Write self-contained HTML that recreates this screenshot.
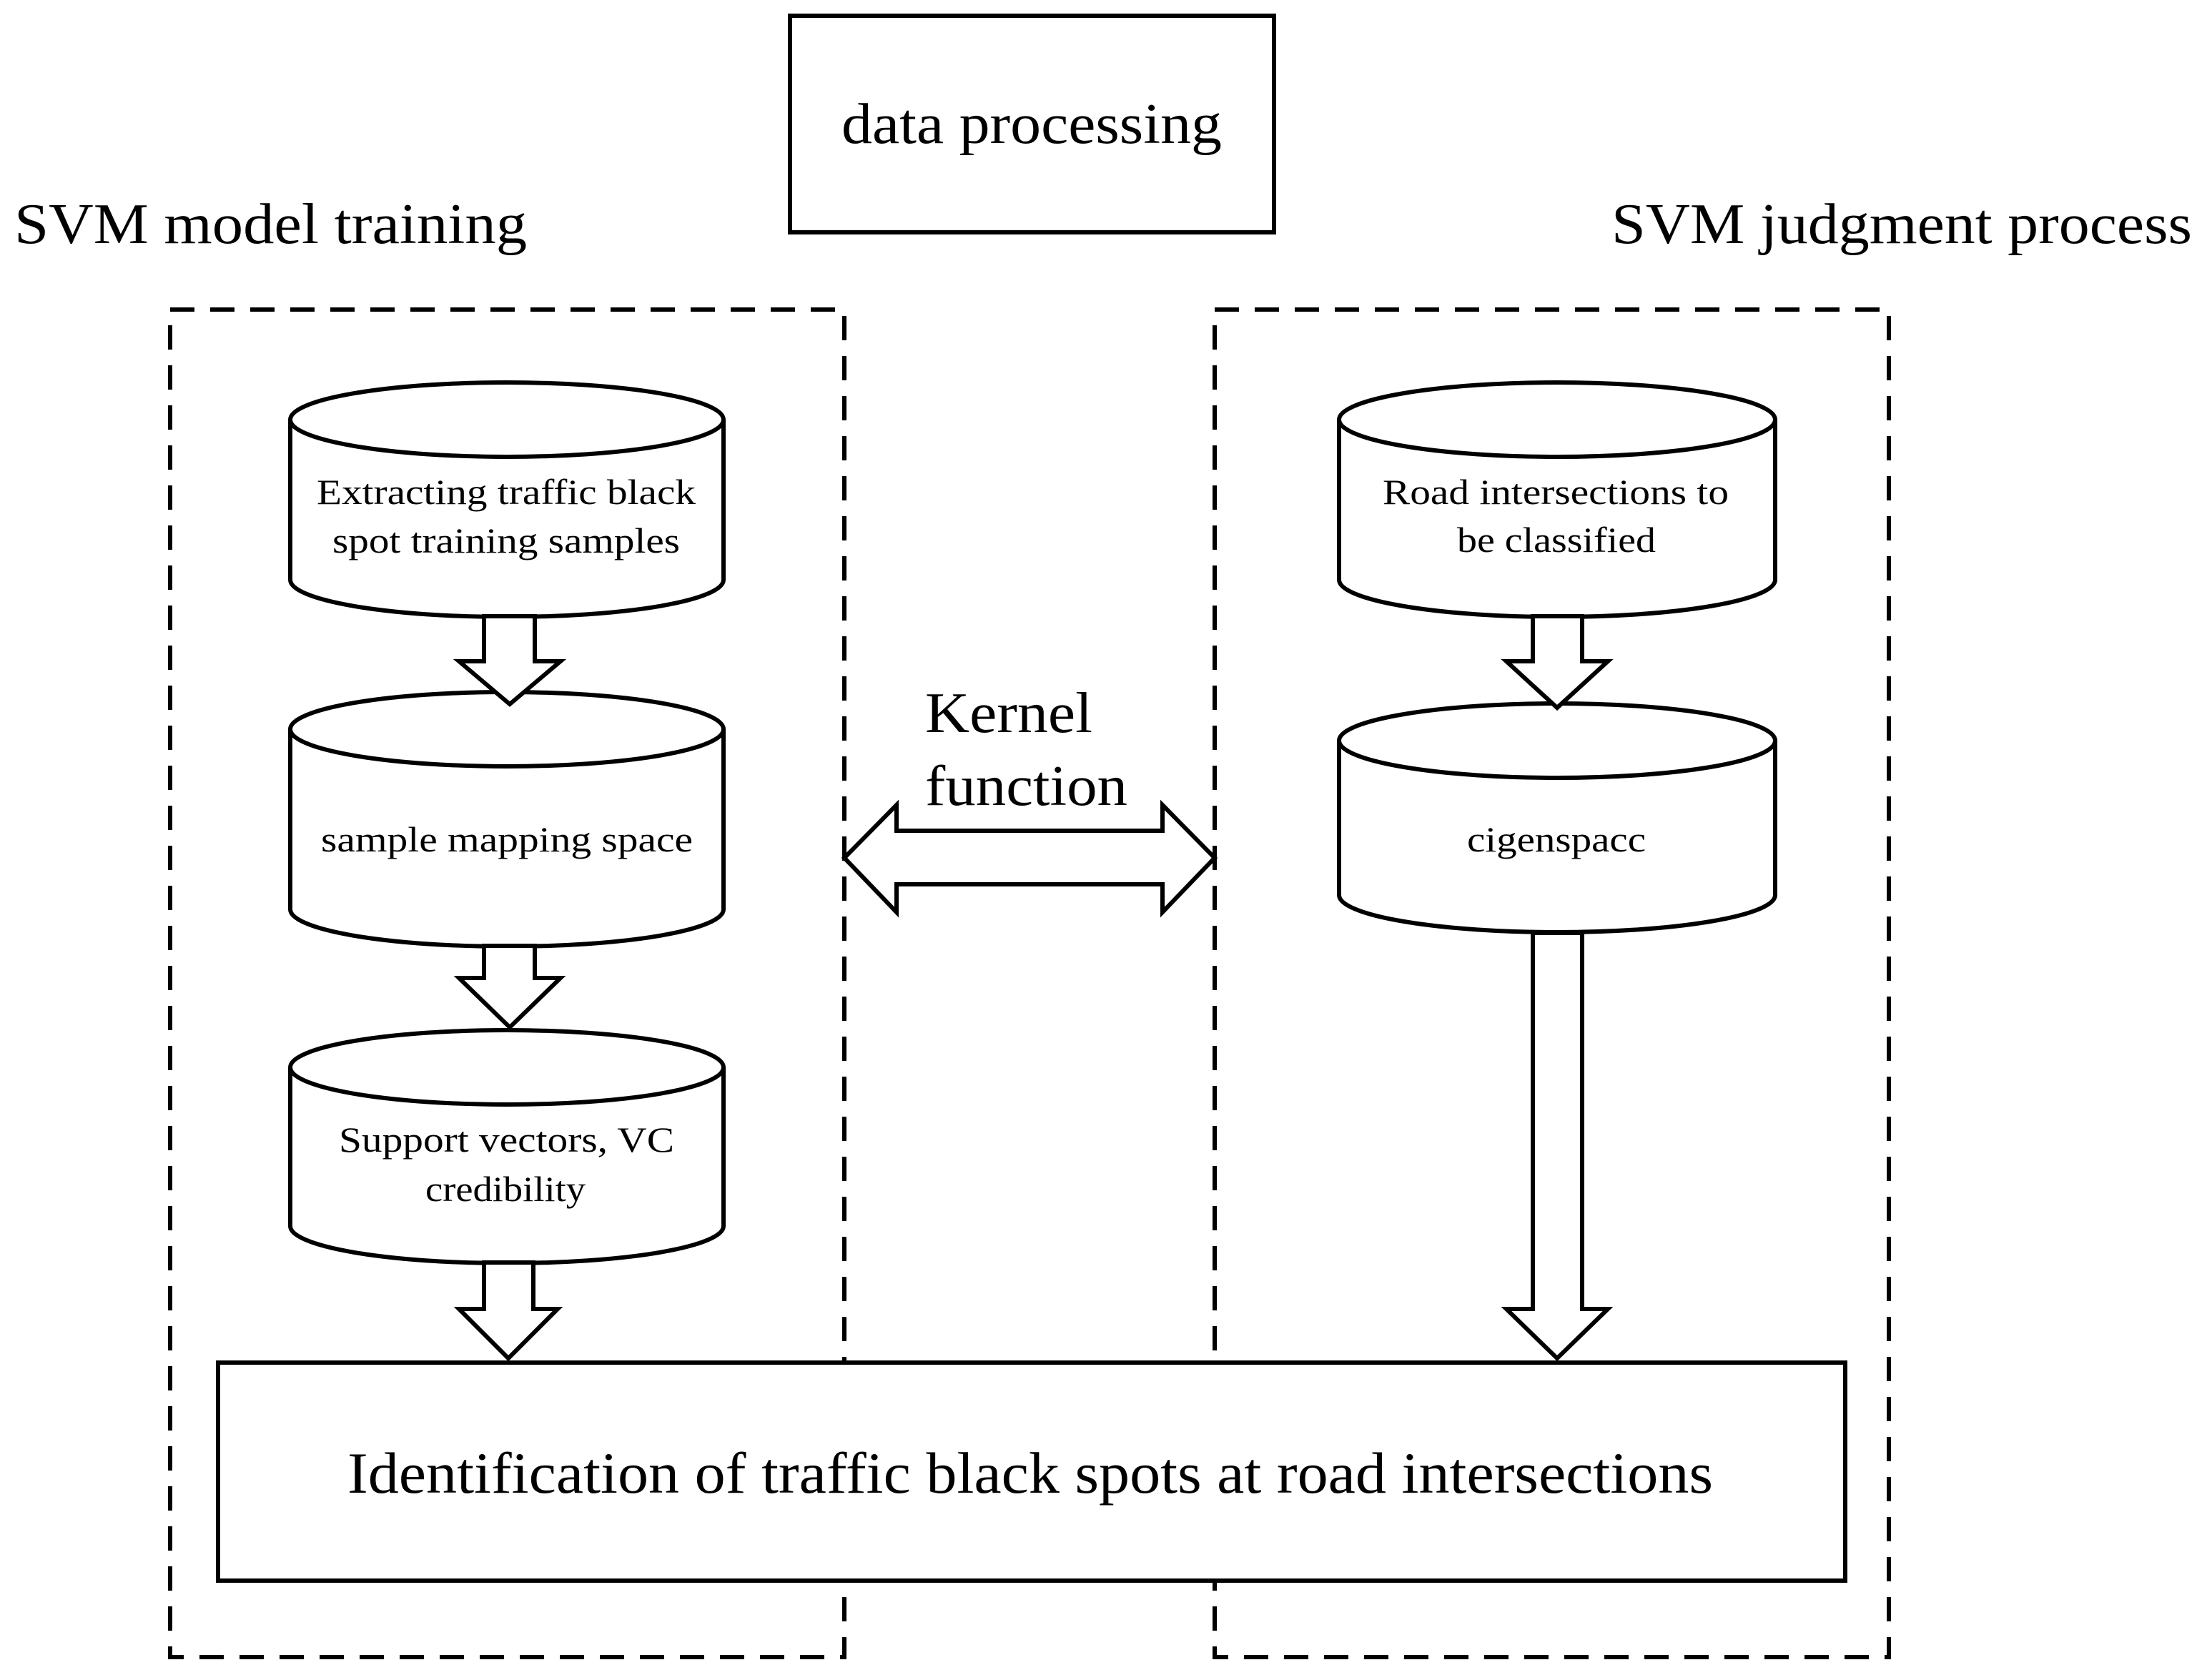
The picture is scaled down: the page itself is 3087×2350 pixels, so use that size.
<!DOCTYPE html>
<html><head><meta charset="utf-8"><style>html,body{margin:0;padding:0;background:#fff}svg{display:block}text{font-family:"Liberation Serif",serif;fill:#000}</style></head>
<body>
<svg width="3087" height="2350" viewBox="0 0 3087 2350" xmlns="http://www.w3.org/2000/svg">
<rect width="3087" height="2350" fill="#fff"/>
<g fill="none" stroke="#000" stroke-width="6">
<rect x="1105" y="22" width="677" height="303"/>
<rect x="238" y="433" width="943" height="1885" stroke-dasharray="34 22"/>
<rect x="1699" y="433" width="943" height="1885" stroke-dasharray="34 22"/>
</g>
<text x="20" y="340" font-size="80" textLength="717" lengthAdjust="spacingAndGlyphs">SVM model training</text>
<text x="2254" y="340" font-size="80" textLength="812" lengthAdjust="spacingAndGlyphs">SVM judgment process</text>
<text x="1177" y="200" font-size="80" textLength="532" lengthAdjust="spacingAndGlyphs">data processing</text>
<g fill="#fff" stroke="#000" stroke-width="6">
<!-- cylinders -->
<path d="M406 587 A303 52 0 0 1 1012 587 L1012 811 A303 52 0 0 1 406 811 Z"/><path d="M406 587 A303 52 0 0 0 1012 587"/>
<path d="M406 1020 A303 52 0 0 1 1012 1020 L1012 1272 A303 52 0 0 1 406 1272 Z"/><path d="M406 1020 A303 52 0 0 0 1012 1020"/>
<path d="M406 1493 A303 52 0 0 1 1012 1493 L1012 1715 A303 52 0 0 1 406 1715 Z"/><path d="M406 1493 A303 52 0 0 0 1012 1493"/>
<path d="M1873 587 A305 52 0 0 1 2483 587 L2483 811 A305 52 0 0 1 1873 811 Z"/><path d="M1873 587 A305 52 0 0 0 2483 587"/>
<path d="M1873 1036 A305 52 0 0 1 2483 1036 L2483 1252 A305 52 0 0 1 1873 1252 Z"/><path d="M1873 1036 A305 52 0 0 0 2483 1036"/>
<!-- arrows -->
<path d="M677 862 L677 925 L642 925 L713 985 L784 925 L748 925 L748 862 Z"/>
<path d="M677 1323 L677 1368 L642 1368 L713 1437 L784 1368 L748 1368 L748 1323 Z"/>
<path d="M677 1766 L677 1831 L642 1831 L711 1900 L780 1831 L746 1831 L746 1766 Z"/>
<path d="M2144 862 L2144 925 L2107 925 L2178 990 L2249 925 L2213 925 L2213 862 Z"/>
<path d="M2144 1305 L2144 1831 L2107 1831 L2178 1900 L2249 1831 L2213 1831 L2213 1305 Z"/>
<path d="M1181 1200 L1254 1126 L1254 1162 L1626 1162 L1626 1126 L1699 1200 L1626 1276 L1626 1237 L1254 1237 L1254 1276 Z"/>
<rect x="305" y="1906" width="2276" height="305"/>
</g>
<text x="1294" y="1024" font-size="80" textLength="234" lengthAdjust="spacingAndGlyphs">Kernel</text>
<text x="1294" y="1126" font-size="80" textLength="283" lengthAdjust="spacingAndGlyphs">function</text>
<text x="486" y="2088" font-size="82" textLength="1910" lengthAdjust="spacingAndGlyphs">Identification of traffic black spots at road intersections</text>
<g font-size="50">
<text x="443" y="705" textLength="530" lengthAdjust="spacingAndGlyphs">Extracting traffic black</text>
<text x="465" y="773" textLength="486" lengthAdjust="spacingAndGlyphs">spot training samples</text>
<text x="449" y="1191" textLength="520" lengthAdjust="spacingAndGlyphs">sample mapping space</text>
<text x="474" y="1611" textLength="469" lengthAdjust="spacingAndGlyphs">Support vectors, VC</text>
<text x="595" y="1680" textLength="224" lengthAdjust="spacingAndGlyphs">credibility</text>
<text x="1934" y="705" textLength="484" lengthAdjust="spacingAndGlyphs">Road intersections to</text>
<text x="2038" y="772" textLength="278" lengthAdjust="spacingAndGlyphs">be classified</text>
<text x="2052" y="1191" textLength="250" lengthAdjust="spacingAndGlyphs">cigenspacc</text>
</g>
</svg>
</body></html>
